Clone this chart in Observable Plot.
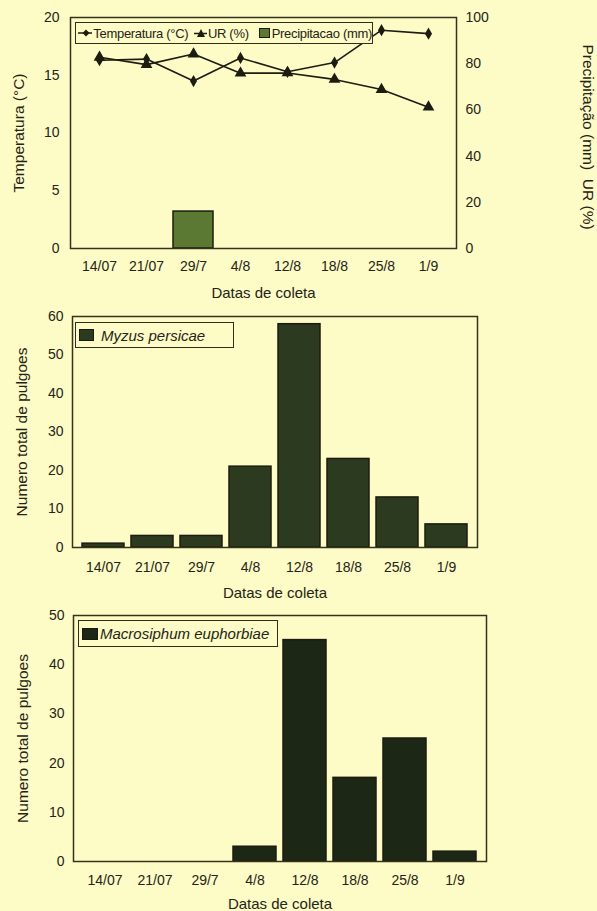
<!DOCTYPE html>
<html>
<head>
<meta charset="utf-8">
<script src="https://cdn.jsdelivr.net/npm/d3@7"></script>
<script src="https://cdn.jsdelivr.net/npm/@observablehq/plot@0.6"></script>
<style>
  html, body { margin: 0; padding: 0; background: #fdfbc6; }
  #wrap { position: relative; width: 597px; height: 911px; overflow: hidden; font-family: "Liberation Sans", Arial, sans-serif; color: #242416; }
  #wrap svg { display: block; }
  .leg { position: absolute; border: 1.5px solid #2e2e1c; background: #fdfbc6; box-sizing: border-box; display: flex; align-items: center; white-space: nowrap; }
  .sq { display: inline-block; border: 1px solid #1a1a10; box-sizing: border-box; }
</style>
</head>
<body>
<div id="wrap"></div>
<script>
const dates = ["14/07", "21/07", "29/7", "4/8", "12/8", "18/8", "25/8", "1/9"];
const temperatura = [16.3, 16.4, 14.5, 16.5, 15.3, 16.1, 18.9, 18.6];
const ur = [82.8, 79.6, 84.2, 75.9, 76.0, 73.2, 68.8, 61.2];
const precipitacao = [0, 0, 16, 0, 0, 0, 0, 0];
const myzus = [1, 3, 3, 21, 58, 23, 13, 6];
const macrosiphum = [0, 0, 0, 3, 45, 17, 25, 2];

const ink = "#1c1c10";
const frameColor = "#34341e";
const font = "Liberation Sans, Arial, sans-serif";
const wrap = document.getElementById("wrap");

const climate = dates.map((d, i) => ({date: d, t: temperatura[i], u: ur[i], p: precipitacao[i]}));

const chart1 = Plot.plot({
  width: 597, height: 300,
  marginLeft: 70, marginRight: 141, marginTop: 17, marginBottom: 52,
  style: {background: "transparent", fontFamily: font, fontSize: "14px", color: "#242416", overflow: "visible"},
  x: {domain: dates, padding: 0.15, label: null},
  y: {domain: [0, 20], label: null},
  marks: [
    Plot.barY(climate.filter(d => d.p > 0), {x: "date", y: d => d.p / 5, fill: "#5b7933", stroke: ink, strokeWidth: 1.5}),
    Plot.line(climate, {x: "date", y: "t", stroke: ink, strokeWidth: 1.6}),
    Plot.dot(climate, {x: "date", y: "t", symbol: "diamond", r: 2.8, fill: ink, stroke: ink}),
    Plot.line(climate, {x: "date", y: d => d.u / 5, stroke: ink, strokeWidth: 1.6}),
    Plot.dot(climate, {x: "date", y: d => d.u / 5, symbol: "triangle", r: 3.4, fill: ink, stroke: ink}),
    Plot.axisX({tickSize: 0, tickPadding: 13, fontSize: 14, label: null}),
    Plot.axisY({ticks: [0, 5, 10, 15, 20], tickSize: 0, tickPadding: 11, fontSize: 14, label: null}),
    Plot.axisY({anchor: "right", ticks: [0, 4, 8, 12, 16, 20], tickFormat: d => d * 5, tickSize: 0, tickPadding: 9, fontSize: 14, label: null}),
    Plot.frame({stroke: frameColor, strokeWidth: 1.5}),
    Plot.text(["Datas de coleta"], {frameAnchor: "bottom", dy: 45, lineAnchor: "middle", textAnchor: "middle", text: d => d, fontSize: 15}),
    Plot.text(["Temperatura (°C)"], {frameAnchor: "left", dx: -51, rotate: -90, textAnchor: "middle", lineAnchor: "middle", text: d => d, fontSize: 15.5}),
    Plot.text(["Precipitação (mm)  UR (%)"], {frameAnchor: "right", dx: 131, dy: 4, rotate: 90, textAnchor: "middle", lineAnchor: "middle", text: d => d, fontSize: 15.5})
  ]
});
wrap.appendChild(chart1);

function aphidChart(values, opts) {
  const rows = dates.map((d, i) => ({date: d, n: values[i]}));
  return Plot.plot({
    width: 597, height: opts.height,
    marginLeft: opts.ml, marginRight: opts.mr, marginTop: opts.mt, marginBottom: opts.mb,
    style: {background: "transparent", fontFamily: font, fontSize: "14px", color: "#242416", overflow: "visible"},
    x: {domain: dates, padding: 0.15, label: null},
    y: {domain: [0, opts.ymax], label: null},
    marks: [
      Plot.barY(rows.filter(r => r.n > 0), {x: "date", y: "n", fill: opts.fill, stroke: ink, strokeWidth: 1.5}),
      Plot.axisX({tickSize: 0, tickPadding: opts.xpad, fontSize: 14, label: null}),
      Plot.axisY({ticks: opts.ticks, tickSize: 0, tickPadding: 9, fontSize: 14, label: null}),
      Plot.frame({stroke: frameColor, strokeWidth: 1.5}),
      Plot.text(["Datas de coleta"], {frameAnchor: "bottom", dy: opts.xlab, lineAnchor: "middle", textAnchor: "middle", text: d => d, fontSize: 15}),
      Plot.text(["Numero total de pulgoes"], {frameAnchor: "left", dx: -50, rotate: -90, textAnchor: "middle", lineAnchor: "middle", text: d => d, fontSize: 15.5})
    ]
  });
}

const chart2 = aphidChart(myzus, {height: 300, ml: 72, mr: 120, mt: 16, mb: 53, ymax: 60, ticks: [0, 10, 20, 30, 40, 50, 60], fill: "#2c3b1f", xpad: 15, xlab: 46});
wrap.appendChild(chart2);
const chart3 = aphidChart(macrosiphum, {height: 311, ml: 73, mr: 111, mt: 15, mb: 50, ymax: 50, ticks: [0, 10, 20, 30, 40, 50], fill: "#1d2716", xpad: 14, xlab: 43});
wrap.appendChild(chart3);

// Legends
function addLegend(html, left, top, w, h, extra) {
  const div = document.createElement("div");
  div.className = "leg";
  div.style.left = left + "px";
  div.style.top = top + "px";
  div.style.width = w + "px";
  div.style.height = h + "px";
  Object.assign(div.style, extra || {});
  div.innerHTML = html;
  wrap.appendChild(div);
}

const lineDiamond = `<svg width="16" height="10" style="margin:0 1px 0 2px"><line x1="0" y1="5" x2="16" y2="5" stroke="${ink}" stroke-width="1.5"/><path d="M8,1.5L11.5,5L8,8.5L4.5,5Z" fill="${ink}"/></svg>`;
const lineTriangle = `<svg width="14" height="10" style="margin:0 1px 0 6px"><line x1="0" y1="5.5" x2="14" y2="5.5" stroke="${ink}" stroke-width="1.5"/><path d="M7,1L11,9L3,9Z" fill="${ink}"/></svg>`;
const sqGreen = `<span class="sq" style="width:12px;height:10px;background:#5b7933;margin:0 2px 0 10px"></span>`;

addLegend(`${lineDiamond}<span>Temperatura (°C)</span>${lineTriangle}<span>UR (%)</span>${sqGreen}<span>Precipitacao (mm)</span>`,
  75, 22, 298, 22, {fontSize: "13px", letterSpacing: "-0.3px"});

addLegend(`<span class="sq" style="width:15px;height:12px;background:#2c3b1f;margin:0 7px 0 3px"></span><span style="font-style:italic">Myzus persicae</span>`,
  75, 322, 159, 26, {fontSize: "15px"});

addLegend(`<span class="sq" style="width:16px;height:12px;background:#1d2716;margin:0 2px 0 3px"></span><span style="font-style:italic">Macrosiphum euphorbiae</span>`,
  78, 620, 200, 27, {fontSize: "15px"});
</script>
</body>
</html>
